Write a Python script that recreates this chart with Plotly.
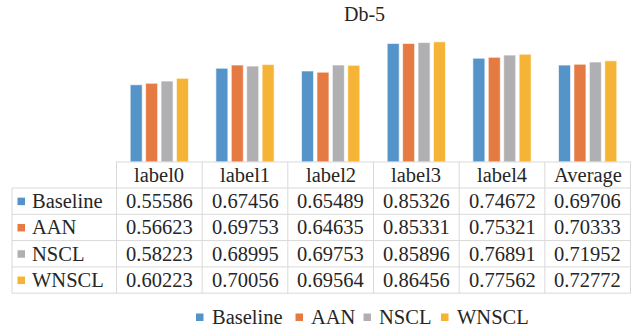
import plotly.graph_objects as go

# Chart data
categories = ["label0", "label1", "label2", "label3", "label4", "Average"]
series_names = ["Baseline", "AAN", "NSCL", "WNSCL"]
baseline = [0.55586, 0.67456, 0.65489, 0.85326, 0.74672, 0.69706]
aan = [0.56623, 0.69753, 0.64635, 0.85331, 0.75321, 0.70333]
nscl = [0.58223, 0.68995, 0.69753, 0.85896, 0.76891, 0.71952]
wnscl = [0.60223, 0.70056, 0.69564, 0.86456, 0.77562, 0.72772]
series_values = [baseline, aan, nscl, wnscl]
title_text = "Db-5"

colors = ["#5594c9", "#e57a42", "#b0b0b3", "#f5b435"]
FONT = "Liberation Serif"
TEXT = "#262626"
GRID = "#d9d9d9"

W, H = 637, 330
L, R, T, B = 116, 631, 23, 162  # plot area in pixels


def px(x):
    return (x - L) / (R - L)


def py(y):
    return (B - y) / (B - T)


fig = go.Figure()
for name, vals, c in zip(series_names, series_values, colors):
    fig.add_trace(go.Bar(
        x=categories, y=vals, name=name,
        marker=dict(color=c, line=dict(color="rgba(255,255,255,0.8)", width=0.8)),
        showlegend=False,
    ))

shapes = []
annotations = []
line = dict(color=GRID, width=1)

# data table below the bars
row_top = 188.0
row_h = 26.3
rows_bottom = row_top + row_h * len(series_names)
left_edge = 12

# header top border (also the category baseline)
shapes.append(dict(type="line", xref="paper", yref="paper",
                   x0=0, x1=1, y0=py(B), y1=py(B), line=line))
# horizontal row borders
for i in range(len(series_names) + 1):
    y = row_top + i * row_h
    shapes.append(dict(type="line", xref="paper", yref="paper",
                       x0=px(left_edge), x1=1, y0=py(y), y1=py(y), line=line))
# vertical borders
shapes.append(dict(type="line", xref="paper", yref="paper",
                   x0=px(left_edge), x1=px(left_edge),
                   y0=py(row_top), y1=py(rows_bottom), line=line))
for k in range(len(categories) + 1):
    shapes.append(dict(type="line", xref="x", yref="paper",
                       x0=k - 0.5, x1=k - 0.5,
                       y0=py(B), y1=py(rows_bottom), line=line))

tfont = dict(family=FONT, size=20.5, color=TEXT)

# column headers
for cat in categories:
    annotations.append(dict(x=cat, xref="x", y=py((B + row_top) / 2), yref="paper",
                            text=cat, showarrow=False, font=tfont,
                            xanchor="center", yanchor="middle"))

# row headers with colour keys, and values
for i, (name, vals, c) in enumerate(zip(series_names, series_values, colors)):
    yc = row_top + (i + 0.5) * row_h
    shapes.append(dict(type="rect", xref="paper", yref="paper",
                       x0=px(17.5), x1=px(25), y0=py(yc - 3.5), y1=py(yc + 4),
                       fillcolor=c, line=dict(width=0)))
    annotations.append(dict(x=px(29.5), xref="paper", y=py(yc), yref="paper",
                            text=name, showarrow=False, font=tfont,
                            xanchor="left", yanchor="middle"))
    for cat, v in zip(categories, vals):
        annotations.append(dict(x=cat, xref="x", y=py(yc), yref="paper",
                                text=f"{v:.5f}", showarrow=False, font=tfont,
                                xanchor="center", yanchor="middle"))

# legend along the bottom
legend_x = [196, 295.5, 363.5, 441]
legend_y = 317
for name, c, lx in zip(series_names, colors, legend_x):
    shapes.append(dict(type="rect", xref="paper", yref="paper",
                       x0=px(lx), x1=px(lx + 7.5),
                       y0=py(legend_y - 3.5), y1=py(legend_y + 4),
                       fillcolor=c, line=dict(width=0)))
    annotations.append(dict(x=px(lx + 13.5), xref="paper", y=py(legend_y), yref="paper",
                            text=name, showarrow=False, font=tfont,
                            xanchor="left", yanchor="middle"))

# title
annotations.append(dict(x=px(364), xref="paper", y=py(14.5), yref="paper",
                        text=title_text, showarrow=False,
                        font=dict(family=FONT, size=20, color=TEXT),
                        xanchor="center", yanchor="middle"))

fig.update_layout(
    width=W, height=H, autosize=False,
    margin=dict(l=L, r=W - R, t=T, b=H - B, pad=0),
    paper_bgcolor="white", plot_bgcolor="white",
    barmode="group", bargap=0.28, bargroupgap=0.22,
    xaxis=dict(showticklabels=False, showgrid=False, zeroline=False,
               showline=False, ticks=""),
    yaxis=dict(range=[0, 1], showticklabels=False, showgrid=False,
               zeroline=False, showline=False, ticks=""),
    shapes=shapes, annotations=annotations, showlegend=False,
)

fig.write_html("out.html")
